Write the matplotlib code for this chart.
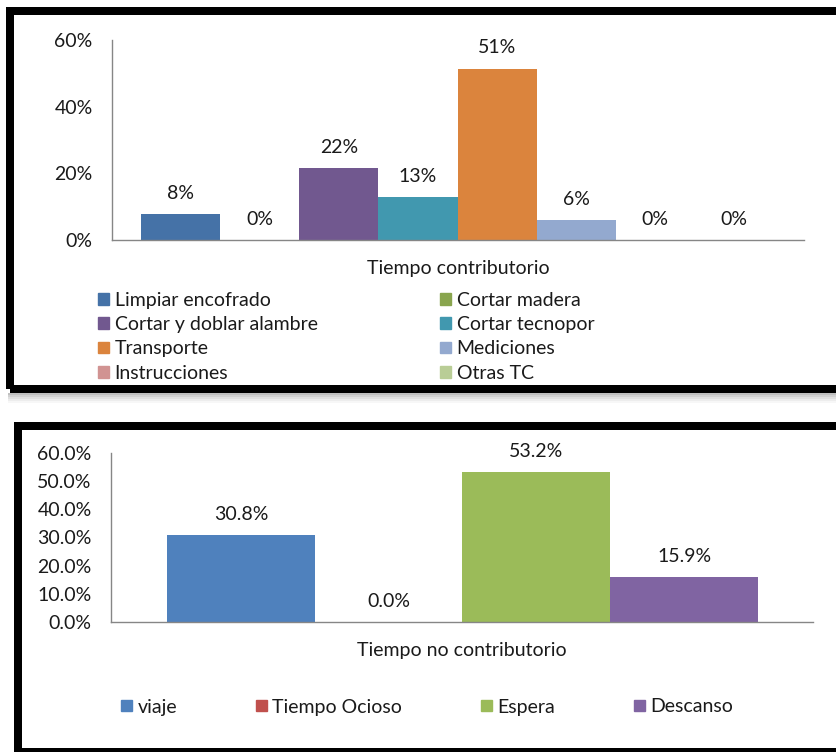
import matplotlib.pyplot as plt
from matplotlib.patches import Rectangle, Patch
from matplotlib.ticker import FuncFormatter

plt.rcParams['font.family'] = ['Lato', 'DejaVu Sans']

W, H = 836, 752

# grafico 1 - tiempo contributorio
tc_cat = "Tiempo contributorio"
tc_labels = ["Limpiar encofrado", "Cortar madera", "Cortar y doblar alambre",
             "Cortar tecnopor", "Transporte", "Mediciones", "Instrucciones", "Otras TC"]
tc_values = [7.8, 0, 21.6, 12.9, 51.4, 6.0, 0, 0]
tc_colors = ["#4572A7", "#89A54E", "#71588F", "#4198AF",
             "#DB843D", "#93A9CF", "#D19392", "#B9CD96"]

# grafico 2 - tiempo no contributorio
tnc_cat = "Tiempo no contributorio"
tnc_labels = ["viaje", "Tiempo Ocioso", "Espera", "Descanso"]
tnc_values = [30.8, 0.0, 53.2, 15.9]
tnc_colors = ["#4F81BD", "#C0504D", "#9BBB59", "#8064A2"]

FS = 14
TXT = "#1a1a1a"
AXC = "#868686"

fig = plt.figure(figsize=(W / 100, H / 100), dpi=100)


def px_axes(left, top, right, bottom):
    return fig.add_axes([left / W, 1 - bottom / H, (right - left) / W, (bottom - top) / H])


def frame(left, top, right, bottom, lw_px=8):
    # marco negro grueso, en pixeles
    r = Rectangle((left / W, 1 - bottom / H), (right - left) / W, (bottom - top) / H,
                  transform=fig.transFigure, fill=False, ec="black",
                  lw=lw_px * 0.72, zorder=10)
    fig.patches.append(r)


# sombra del primer marco
for k, a in enumerate([0.25, 0.18, 0.12, 0.07, 0.03]):
    y0 = 393 + 2 * k
    fig.patches.append(Rectangle((8 / W, 1 - (y0 + 2) / H), 840 / W, 2 / H,
                                 transform=fig.transFigure, color="black",
                                 alpha=a, lw=0, zorder=1))

frame(10, 11, 845, 389)
frame(18, 426, 845, 752)


def style_axes(ax, fmt, yticks, cat):
    ax.set_ylim(0, 60)
    ax.set_xlim(0, 1)
    ax.set_yticks(yticks)
    ax.yaxis.set_major_formatter(FuncFormatter(lambda v, p: fmt.format(v)))
    ax.set_xticks([0.5])
    ax.set_xticklabels([cat])
    for s in ["top", "right"]:
        ax.spines[s].set_visible(False)
    for s in ["left", "bottom"]:
        ax.spines[s].set_color(AXC)
        ax.spines[s].set_linewidth(1)
    ax.tick_params(axis="y", length=0, pad=14, labelsize=FS, labelcolor=TXT)
    ax.tick_params(axis="x", length=0, pad=14.5, labelsize=FS, labelcolor=TXT)
    ax.set_facecolor("none")


def draw_bars(ax, values, colors, labels, start, bw, fmt):
    bars = []
    for i, (v, c, lab) in enumerate(zip(values, colors, labels)):
        x = start + (i + 0.5) * bw
        b = ax.bar(x, v, width=bw, color=c, label=lab, zorder=2)
        bars.append(b[0])
        ax.annotate(fmt.format(v), (x, v), xytext=(0, 15), textcoords="offset points",
                    ha="center", va="center", fontsize=FS, color=TXT)
    return bars


# ---- grafico 1
ax1 = px_axes(112, 40, 804, 240)
style_axes(ax1, "{:.0f}%", [0, 20, 40, 60], tc_cat)
bars1 = draw_bars(ax1, tc_values, tc_colors, tc_labels, 0.0425, 0.1142, "{:.0f}%")

order = [0, 2, 4, 6, 1, 3, 5, 7]
h1 = [Patch(color=tc_colors[i]) for i in order]
l1 = [tc_labels[i] for i in order]
fig.legend(h1, l1, loc="upper left", bbox_to_anchor=(98 / W, 1 - 292 / H),
           ncol=2, frameon=False, fontsize=FS, handlelength=0.55, handleheight=0.55,
           handletextpad=0.3, labelspacing=0.37, columnspacing=6.3, borderpad=0,
           borderaxespad=0, labelcolor=TXT)

# ---- grafico 2
ax2 = px_axes(111, 453, 813, 622)
style_axes(ax2, "{:.1f}%", [0, 10, 20, 30, 40, 50, 60], tnc_cat)
bars2 = draw_bars(ax2, tnc_values, tnc_colors, tnc_labels, 0.0797, 0.2105, "{:.1f}%")

h2 = [Patch(color=c) for c in tnc_colors]
fig.legend(h2, tnc_labels, loc="center left", bbox_to_anchor=(121 / W, 1 - 707 / H),
           ncol=4, frameon=False, fontsize=FS, handlelength=0.55, handleheight=0.55,
           handletextpad=0.3, columnspacing=4.05, borderpad=0, borderaxespad=0,
           labelcolor=TXT)

fig.savefig("out.png", dpi=100)
